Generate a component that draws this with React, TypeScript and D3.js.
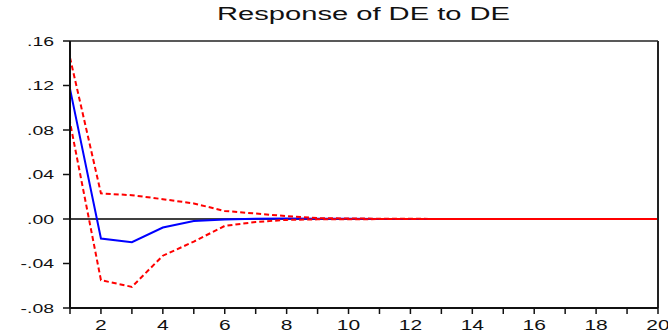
import * as d3 from "d3";

// impulse response of DE to a DE shock, with +/- 2 S.E. bands
const periods = [1, 2, 3, 4, 5, 6, 7, 8, 9, 10, 11, 12, 13, 14, 15, 16, 17, 18, 19, 20];
const response = [0.117, -0.0175, -0.0208, -0.0077, -0.0019, -0.0005, 0.0002, 0.0004, 0.0003, 0.0002, 0.0001, 0.0001, 0, 0, 0, 0, 0, 0, 0, 0];
const upperBand = [0.145, 0.023, 0.0214, 0.0178, 0.014, 0.0072, 0.0049, 0.0026, 0.0008, 0.0004, 0.0003, 0.0002, 0, 0, 0, 0, 0, 0, 0, 0];
const lowerBand = [0.087, -0.055, -0.061, -0.033, -0.0203, -0.0062, -0.0027, -0.0008, -0.0003, -0.0002, -0.0001, -0.0001, 0, 0, 0, 0, 0, 0, 0, 0];
const yTicks = [0.16, 0.12, 0.08, 0.04, 0, -0.04, -0.08];
const yTickLabels = [".16", ".12", ".08", ".04", ".00", "-.04", "-.08"];
const xTickLabels = [2, 4, 6, 8, 10, 12, 14, 16, 18, 20];
const title = "Response of DE to DE";

const font = "'Liberation Sans', Arial, sans-serif";
const stretch = 1.62;

export default function App() {
  const width = 668;
  const height = 334;
  const left = 70;
  const right = 658;
  const top = 41;
  const bottom = 308;

  const x = d3.scaleLinear().domain([1, 20]).range([left, right]);
  const y = d3.scaleLinear().domain([-0.08, 0.16]).range([bottom, top]);

  const line = d3
    .line<number>()
    .x((_, i) => x(periods[i]))
    .y((v) => y(v));

  return (
    <svg
      width={width}
      height={height}
      viewBox={`0 0 ${width} ${height}`}
      style={{ position: "absolute", left: 0, top: 0, background: "#fff" }}
    >
      <text
        x={217}
        y={20}
        fontFamily={font}
        fontSize="18"
        fill="#111"
        textLength={293}
        lengthAdjust="spacingAndGlyphs"
      >
        {title}
      </text>

      <line x1={left} x2={right} y1={y(0)} y2={y(0)} stroke="#000" strokeWidth="1.5" />

      <path d={line(response) ?? ""} fill="none" stroke="#0000ff" strokeWidth="2" />
      <path d={line(upperBand) ?? ""} fill="none" stroke="#ff0000" strokeWidth="2" strokeDasharray="5 3" />
      <path
        d={line(lowerBand) ?? ""}
        fill="none"
        stroke="#ff0000"
        strokeWidth="2"
        strokeDasharray="5 3"
        strokeDashoffset="4"
      />

      {/* frame */}
      <line x1={left} x2={right} y1={top} y2={top} stroke="#222" strokeWidth="1.5" />
      <line x1={right} x2={right} y1={top} y2={bottom} stroke="#222" strokeWidth="2" />
      <line x1={left} x2={left} y1={top} y2={bottom} stroke="#111" strokeWidth="2" />
      <line x1={left} x2={right} y1={bottom} y2={bottom} stroke="#111" strokeWidth="2" />

      {yTicks.map((t, i) => (
        <g key={t}>
          <line x1={left - 7} x2={left} y1={y(t)} y2={y(t)} stroke="#111" strokeWidth="1.5" />
          <g transform={`translate(54, ${y(t) + 4.5}) scale(${stretch}, 1)`}>
            <text x={0} y={0} textAnchor="end" fontFamily={font} fontSize="12" fill="#111">
              {yTickLabels[i]}
            </text>
          </g>
        </g>
      ))}

      {periods.map((p) => (
        <line key={p} x1={x(p)} x2={x(p)} y1={bottom} y2={bottom + 6} stroke="#111" strokeWidth="1.5" />
      ))}
      {xTickLabels.map((p) => (
        <g key={p} transform={`translate(${x(p)}, 330) scale(1.5, 1)`}>
          <text x={0} y={0} textAnchor="middle" fontFamily={font} fontSize="14" fill="#111">
            {p}
          </text>
        </g>
      ))}
    </svg>
  );
}
